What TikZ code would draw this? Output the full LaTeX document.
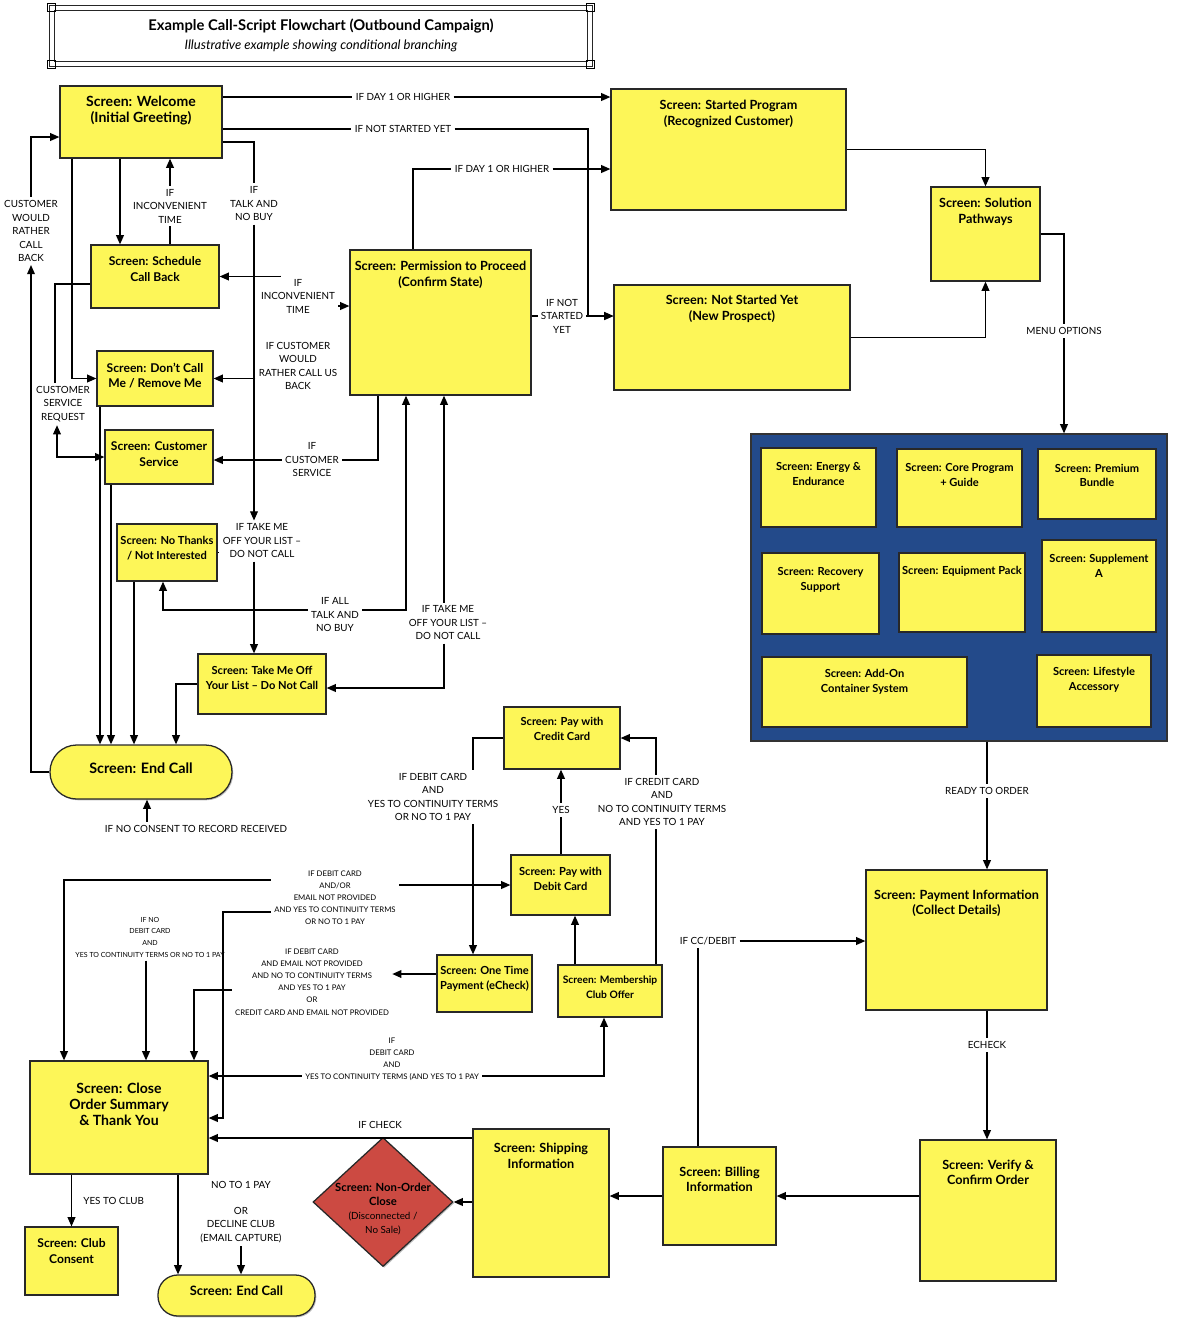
\documentclass[tikz,border=0pt]{standalone}
\usepackage{fontspec}
\setmainfont{Lato}
\usetikzlibrary{shapes.geometric, arrows.meta, positioning, fit, calc, shadows}
\definecolor{scrnyellow}{RGB}{253, 246, 88}
\definecolor{panelblue}{RGB}{35, 74, 138}
\definecolor{nonordred}{RGB}{204, 74, 66}
\definecolor{edgegray}{RGB}{40, 40, 40}

\begin{document}
\begin{tikzpicture}[
    x=0.025cm, y=-0.025cm,
    line width=0.9pt,
    >={Triangle[length=6.5pt,width=5.5pt]},
    screen/.style={rectangle, draw=edgegray, fill=scrnyellow, inner sep=0pt,
                   drop shadow={shadow xshift=0.9pt, shadow yshift=-0.9pt, fill=black, opacity=0.25}},
    scrtext/.style={anchor=north, yshift=-6pt, align=center, inner sep=2pt,
                    font=\bfseries\fontsize{9}{11.3}\selectfont},
    scrbig/.style={scrtext, font=\bfseries\fontsize{10}{11.5}\selectfont},
    scrmid/.style={scrtext, yshift=-0.5pt, font=\bfseries\fontsize{8.6}{11}\selectfont},
    scrsmall/.style={scrtext, yshift=-1pt, font=\bfseries\fontsize{7.9}{10.6}\selectfont},
    endcall/.style={screen, rounded corners=#1, font=\bfseries\fontsize{10.2}{12}\selectfont},
    cond/.style={font=\fontsize{7}{9.6}\selectfont, align=center, inner sep=2pt},
    condfine/.style={font=\fontsize{5.5}{8.6}\selectfont, align=center, inner sep=2pt},
]
\useasboundingbox (0,0) rectangle (1181,1331);

\node[draw=black!85, double, double distance=2.2pt, line width=0.9pt, inner sep=0pt,
      fit={(52,8) (590,64)},
      label={[align=center, yshift=0.5pt, font=\fontsize{10.5}{13}\selectfont]center:{{\bfseries Example Call-Script Flowchart (Outbound Campaign)}\\
       {\itshape\fontsize{9.3}{12}\selectfont Illustrative example showing conditional branching}}}] (title) {};
\foreach \c in {north west, north east, south west, south east}
    \draw[line width=0.6pt] (title.\c) ++(-4,-4) rectangle ++(8,8);

\node[screen, fit={(60,86) (222,158)}, label={[scrbig, yshift=1pt]north:{Screen: Welcome\\(Initial Greeting)}}] (welcome) {};
\node[screen, fit={(611,89) (846,210)}, label={[scrtext]north:{Screen: Started Program\\(Recognized Customer)}}] (started) {};
\node[screen, fit={(931,187) (1040,281)}, label={[scrtext]north:{Screen: Solution\\Pathways}}] (solution) {};
\node[screen, fit={(91,245) (219,308)}, label={[scrmid]north:{Screen: Schedule\\Call Back}}] (schedule) {};
\node[screen, fit={(350,250) (531,395)}, label={[scrtext]north:{Screen: Permission to Proceed\\(Confirm State)}}] (permission) {};
\node[screen, fit={(614,285) (850,390)}, label={[scrtext, yshift=1pt]north:{Screen: Not Started Yet\\(New Prospect)}}] (notstarted) {};
\node[screen, fit={(97,351) (213,406)}, label={[scrmid]north:{Screen: Don't Call\\Me / Remove Me}}] (dontcall) {};
\node[screen, fit={(105,430) (213,484)}, label={[scrmid]north:{Screen: Customer\\Service}}] (custserv) {};
\node[screen, fit={(117,524) (217,581)}, label={[scrsmall]north:{Screen: No Thanks\\/ Not Interested}}] (nothanks) {};
\node[screen, fit={(198,654) (326,714)}, label={[scrsmall]north:{Screen: Take Me Off\\Your List – Do Not Call}}] (takeoff) {};
\node[endcall=19pt, fit={(50,745) (232,799)}] (endcall1) {\raisebox{-2pt}{Screen: End Call}};

\node[rectangle, draw=black!80, fill=panelblue, inner sep=0pt, fit={(751,434) (1167,741)},
      drop shadow={shadow xshift=1pt, shadow yshift=-1pt, fill=black, opacity=0.25}] (panel) {};
\node[screen, fit={(761,448) (876,527)}, label={[scrsmall, yshift=-1.5pt]north:{Screen: Energy \&\\Endurance}}] (energy) {};
\node[screen, fit={(897,449) (1022,527)}, label={[scrsmall, yshift=-1.5pt]north:{Screen: Core Program\\+ Guide}}] (core) {};
\node[screen, fit={(1038,449) (1156,519)}, label={[scrsmall, yshift=-1.5pt]north:{Screen: Premium\\Bundle}}] (premium) {};
\node[screen, fit={(762,553) (879,634)}, label={[scrsmall, yshift=-1pt]north:{Screen: Recovery\\Support}}] (recovery) {};
\node[screen, fit={(899,553) (1025,632)}, label={[scrsmall, yshift=-0.5pt]north:{Screen: Equipment Pack}}] (equipment) {};
\node[screen, fit={(1042,540) (1156,632)}, label={[scrsmall, yshift=-1pt]north:{Screen: Supplement\\A}}] (supplement) {};
\node[screen, fit={(762,657) (967,727)}, label={[scrsmall]north:{Screen: Add-On\\Container System}}] (addon) {};
\node[screen, fit={(1037,655) (1151,727)}, label={[scrsmall]north:{Screen: Lifestyle\\Accessory}}] (lifestyle) {};

\node[screen, fit={(504,707) (620,769)}, label={[scrsmall, yshift=1.5pt]north:{Screen: Pay with\\Credit Card}}] (credit) {};
\node[screen, fit={(511,855) (610,915)}, label={[scrsmall]north:{Screen: Pay with\\Debit Card}}] (debit) {};
\node[screen, fit={(437,955) (532,1012)}, label={[scrsmall, yshift=1pt]north:{Screen: One Time\\Payment (eCheck)}}] (onetime) {};
\node[screen, fit={(558,965) (662,1017)}, label={[scrsmall, yshift=1pt, font=\bfseries\fontsize{7.3}{10.4}\selectfont]north:{Screen: Membership\\Club Offer}}] (membership) {};
\node[screen, fit={(866,870) (1047,1010)}, label={[scrtext, yshift=-6pt]north:{Screen: Payment Information\\(Collect Details)}}] (payment) {};
\node[screen, fit={(30,1061) (208,1174)}, label={[scrbig, yshift=-7.5pt]north:{Screen: Close\\Order Summary\\\& Thank You}}] (close) {};
\node[screen, fit={(25,1227) (118,1295)}, label={[scrmid]north:{Screen: Club\\Consent}}] (clubconsent) {};
\node[endcall=14pt, fit={(158,1275) (315,1316)}, font=\bfseries\fontsize{9.2}{11}\selectfont] (endcall2) {Screen: End Call};
\node[diamond, draw=edgegray, fill=nonordred, inner sep=-8pt, minimum width=3.5cm, minimum height=3.225cm,
      drop shadow={shadow xshift=0.9pt, shadow yshift=-0.9pt, fill=black, opacity=0.25},
      label={[align=center, yshift=-5pt, font=\fontsize{7}{10}\selectfont]center:{{\bfseries\fontsize{8}{10}\selectfont Screen: Non-Order}\\{\bfseries\fontsize{8}{10}\selectfont Close}\\(Disconnected /\\No Sale)}}] (nonorder) at (383,1202) {};
\node[screen, fit={(473,1129) (609,1277)}, label={[scrtext, yshift=-2pt]north:{Screen: Shipping\\Information}}] (shipping) {};
\node[screen, fit={(663,1147) (776,1245)}, label={[scrtext, yshift=-6pt]north:{Screen: Billing\\Information}}] (billing) {};
\node[screen, fit={(920,1140) (1056,1281)}, label={[scrtext, yshift=-6pt]north:{Screen: Verify \&\\Confirm Order}}] (verify) {};

\node[cond] (t1) at (403,97) {IF DAY 1 OR HIGHER};
\node[cond] (t2) at (403,129) {IF NOT STARTED YET};
\node[cond] (t3) at (502,169) {IF DAY 1 OR HIGHER};
\node[cond] (t4) at (1064,331) {MENU OPTIONS};
\node[cond] (t5) at (987,791) {READY TO ORDER};
\node[cond] (t6) at (987,1045) {ECHECK};
\node[cond] (t7) at (708,941) {IF CC/DEBIT};
\node[cond] (t10) at (241,1212) {NO TO 1 PAY\\[9pt]OR\\DECLINE CLUB\\(EMAIL CAPTURE)};
\node[cond] (t11) at (662,802) {IF CREDIT CARD\\AND\\NO TO CONTINUITY TERMS\\AND YES TO 1 PAY};
\node[cond] (t12) at (561,810) {YES};
\node[cond] (t13) at (433,797) {IF DEBIT CARD\\AND\\YES TO CONTINUITY TERMS\\OR NO TO 1 PAY};
\node[condfine] (t14) at (335,898) {IF DEBIT CARD\\AND/OR\\EMAIL NOT PROVIDED\\AND YES TO CONTINUITY TERMS\\OR NO TO 1 PAY};
\node[condfine, font=\fontsize{5}{8.3}\selectfont] (t15) at (150,937) {IF NO\\DEBIT CARD\\AND\\YES TO CONTINUITY TERMS OR NO TO 1 PAY};
\node[condfine] (t16) at (312,982) {IF DEBIT CARD\\AND EMAIL NOT PROVIDED\\AND NO TO CONTINUITY TERMS\\AND YES TO 1 PAY\\OR\\CREDIT CARD AND EMAIL NOT PROVIDED};
\node[condfine] (t17) at (392,1059) {IF\\DEBIT CARD\\AND\\YES TO CONTINUITY TERMS (AND YES TO 1 PAY};
\node[cond] (t18) at (170,206) {IF\\INCONVENIENT\\TIME};
\node[cond] (t19) at (254,204) {IF\\TALK AND\\NO BUY};
\node[cond] (t20) at (262,541) {IF TAKE ME\\OFF YOUR LIST –\\DO NOT CALL};
\node[cond] (t21) at (298,296) {IF\\INCONVENIENT\\TIME};
\node[cond] (t22) at (298,366) {IF CUSTOMER\\WOULD\\RATHER CALL US\\BACK};
\node[cond] (t23) at (312,460) {IF\\CUSTOMER\\SERVICE};
\node[cond] (t24) at (335,615) {IF ALL\\TALK AND\\NO BUY};
\node[cond] (t25) at (448,623) {IF TAKE ME\\OFF YOUR LIST –\\DO NOT CALL};
\node[cond] (t26) at (31,231) {CUSTOMER\\WOULD\\RATHER\\CALL\\BACK};
\node[cond] (t27) at (63,404) {CUSTOMER\\SERVICE\\REQUEST};
\node[cond] (t28) at (196,829) {IF NO CONSENT TO RECORD RECEIVED};
\node[cond] (t29) at (562,316) {IF NOT\\STARTED\\YET};

\draw (welcome.east |- t1) -- (t1.west);
\draw[->] (t1.east) -- (started.west |- t1);
\draw (welcome.east |- t2) -- (t2.west);
\draw[->] (t2.east) -| (588,316) -- (notstarted.west |- t29);
\draw (permission.east |- t29) -- (t29.west);
\draw[->] (t29.east) -- (notstarted.west |- t29);
\draw (permission.north -| 413,0) |- (t3.west);
\draw[->] (t3.east) -- (started.west |- t3);
\draw[->] (started.east) -| (solution.north);
\draw[->] (notstarted.east) -| (solution.south);
\draw (solution.east) -| (t4.north);
\draw[->] (t4.south) -- (t4.south |- panel.north);
\draw (panel.south -| t5) -- (t5.north);
\draw[->] (t5.south) -- (t5.south |- payment.north);
\draw (payment.south -| t6) -- (t6.north);
\draw[->] (t6.south) -- (t6.south |- verify.north);
\draw[->] (verify.west |- billing.east) -- (billing.east);
\draw[->] (billing.west) -- (shipping.east |- billing.west);
\draw (billing.north -| 698,0) -- (t7.south -| 698,0);
\draw[->] (t7.east) -- (payment.west |- t7);
\draw[->] (shipping.west |- 0,1138) -- node[cond, above=4pt, pos=0.35] (t8) {IF CHECK} (close.east |- 0,1138);
\draw[->] (shipping.west |- nonorder) -- (nonorder.east);
\draw[->] (close.south -| clubconsent) -- node[cond, right=6pt] (t9) {YES TO CLUB} (clubconsent.north);
\draw[->] (close.south -| 178,0) -- (endcall2.north -| 178,0);
\draw[->] (t10.south) -- (endcall2.north -| t10);

\draw[->] (membership.north -| 575,0) -- (debit.south -| 575,0);
\draw (membership.north -| 656,0) -- (t11.south -| 656,0);
\draw[->] (t11.north -| 656,0) |- (credit.east);
\draw (debit.north -| t12) -- (t12.south);
\draw[->] (t12.north) -- (credit.south -| t12);
\draw (credit.west) -| (t13.north -| 473,0);
\draw[->] (t13.south -| 473,0) -- (onetime.north -| 473,0);
\draw[->] (t14.west |- 0,880) -| (close.north -| 64,0);
\draw[->] (t14.east |- debit.west) -- (debit.west);
\draw[->] (t14.west |- 0,912) -| (223,1118) -- (close.east |- 0,1118);
\draw[->] (t15.south -| 146,0) -- (close.north -| 146,0);
\draw[->] (onetime.west |- 0,974) -- (t16.east |- 0,974);
\draw[->] (t16.west |- 0,990) -| (close.north -| 194,0);
\draw[->] (t17.west |- 0,1076) -- (close.east |- 0,1076);
\draw[->] (t17.east |- 0,1076) -| (membership.south -| 604,0);

\draw[->] (welcome.south -| 120,0) -- (schedule.north -| 120,0);
\draw (schedule.north -| t18) -- (t18.south);
\draw[->] (t18.north) -- (welcome.south -| t18);
\draw (welcome.east |- 0,142) -| (t19.north);
\draw[->] (t19.south) -- (t20.north -| t19);
\draw[->] (t20.south -| t19) -- (takeoff.north -| t19);
\draw (nothanks.east) -- (t20.west |- nothanks.east);
\draw[->] (t21.north -| 280,0) |- (schedule.east);
\draw[->] (t21.east |- 0,306) -- (permission.west |- 0,306);
\draw[->] (t22.west |- dontcall.east) -- (dontcall.east);
\draw (permission.south -| 378,0) |- (t23.east);
\draw[->] (t23.west) -- (custserv.east |- t23);
\draw[->] (t24.east |- 0,610) -| (permission.south -| 406,0);
\draw[->] (t24.west |- 0,610) -| (nothanks.south -| 163,0);
\draw[->] (t25.north -| 444,0) -- (permission.south -| 444,0);
\draw[->] (t25.south -| 444,0) |- (takeoff.east |- 0,688);

\draw[->] (endcall1.west) -| (t26.south);
\draw[->] (t26.north) |- (welcome.west |- 0,137);
\draw[->] (welcome.south -| 72,0) |- (dontcall.west);
\draw (schedule.west |- 0,284) -| (t27.north -| 55,0);
\draw[<->] (t27.south -| 57,0) |- (custserv.west);
\draw[->] (dontcall.south -| 100,0) -- (endcall1.north -| 100,0);
\draw[->] (custserv.south -| 111,0) -- (endcall1.north -| 111,0);
\draw[->] (nothanks.south -| 134,0) -- (endcall1.north -| 134,0);
\draw[->] (takeoff.west) -| (endcall1.north -| 176,0);
\draw[->] (t28.north -| 147,0) -- (endcall1.south -| 147,0);

\end{tikzpicture}
\end{document}
